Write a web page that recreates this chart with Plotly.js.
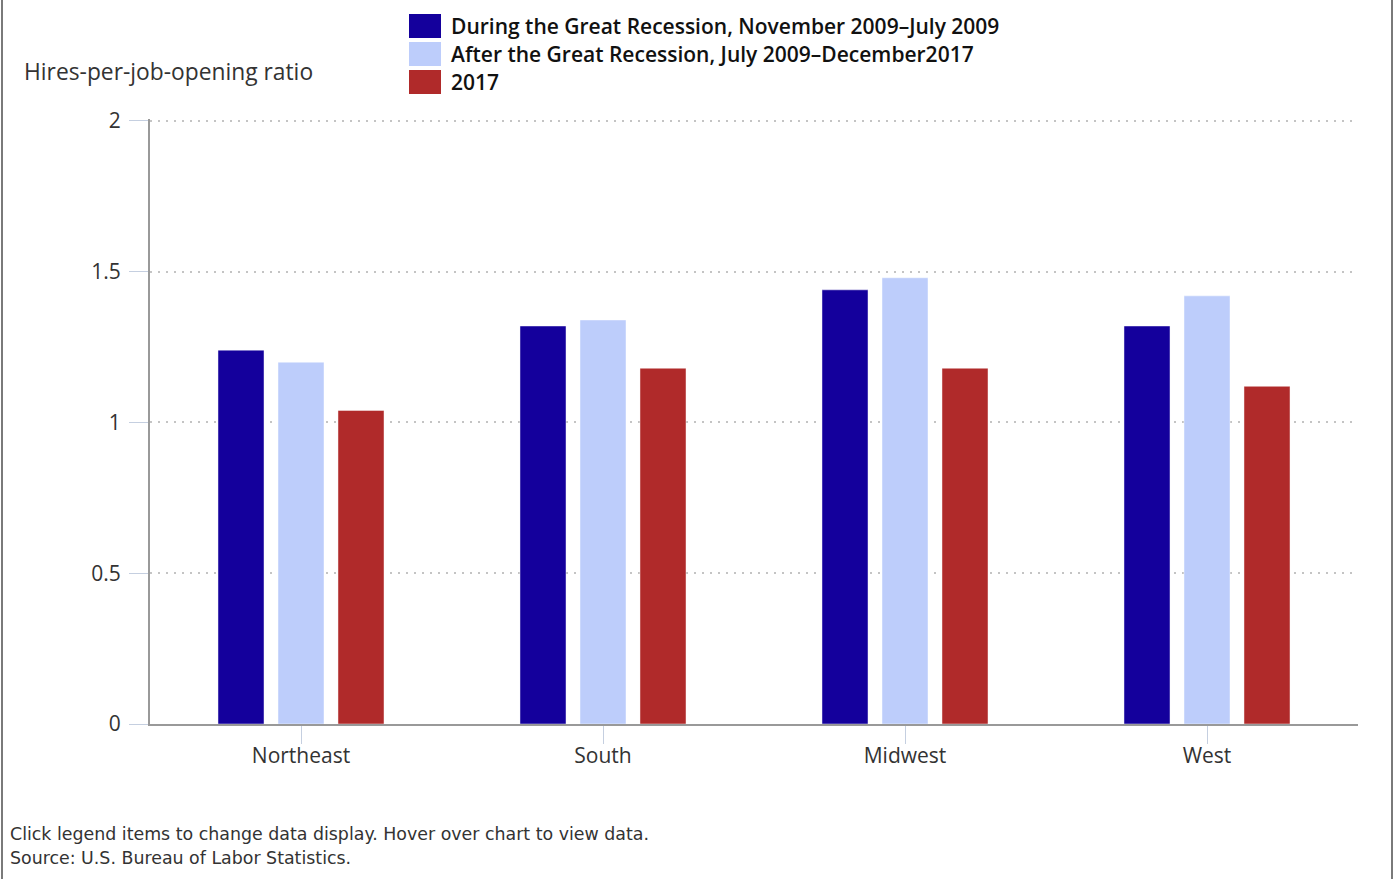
<!DOCTYPE html>
<html>
<head>
<meta charset="utf-8">
<script src="https://cdn.plot.ly/plotly-3.0.1.min.js"></script>
<style>
  html, body { margin: 0; padding: 0; background: #fff; }
  #chart { position: absolute; left: 0; top: 0; width: 1395px; height: 879px; }
  .edge { position: absolute; top: 0; width: 2px; height: 879px; background: #7a7a7a; }
</style>
</head>
<body>
<div id="chart"></div>
<div class="edge" style="left:1px"></div>
<div class="edge" style="left:1391px"></div>
<script>
// Hires per job opening, by Census region
const regions = ["Northeast", "South", "Midwest", "West"];
const seriesNames = [
  "During the Great Recession, November 2009\u2013July 2009",
  "After the Great Recession, July 2009\u2013December2017",
  "2017"
];
const duringRecession = [1.24, 1.32, 1.44, 1.32];
const afterRecession  = [1.20, 1.34, 1.48, 1.42];
const year2017        = [1.04, 1.18, 1.18, 1.12];
const seriesColors = ["#14009c", "#bdcdfb", "#b02a2a"];
const yTicks = [0, 0.5, 1, 1.5, 2];
const yTickText = ["0", "0.5", "1", "1.5", "2"];

const values = [duringRecession, afterRecession, year2017];

const traces = values.map((v, i) => ({
  type: "bar",
  name: seriesNames[i],
  x: regions,
  y: v,
  marker: { color: seriesColors[i], line: { color: "rgba(255,255,255,0.45)", width: 1 } },
  hovertemplate: "%{x}<br>" + seriesNames[i] + ": %{y}<extra></extra>",
  showlegend: false
}));

const textFont = "Open Sans, Noto Sans, sans-serif";
const noteFont = "DejaVu Sans, Verdana, sans-serif";

// page-pixel helpers for items placed outside the plot area
const L = 150, T = 119, W = 1208, H = 605;
const px = x => (x - L) / W;
const py = y => (T + H - y) / H;

// Legend drawn as swatches plus labels above the plot
const shapes = [];
const annotations = [];
seriesNames.forEach((name, i) => {
  const cy = 26 + i * 28;
  shapes.push({
    type: "rect", xref: "paper", yref: "paper",
    x0: px(409), x1: px(441), y0: py(cy + 12), y1: py(cy - 12),
    fillcolor: seriesColors[i], line: { width: 0 }
  });
  annotations.push({
    xref: "paper", yref: "paper", x: px(449), y: py(cy),
    xanchor: "left", yanchor: "middle", showarrow: false,
    text: name, font: { family: textFont, size: 21, color: "#111", weight: 600 }
  });
});

annotations.push({
  xref: "paper", yref: "paper", x: px(22), y: py(72),
  xanchor: "left", yanchor: "middle", showarrow: false,
  text: "Hires-per-job-opening ratio",
  font: { family: textFont, size: 22.8, color: "#333" }
});
annotations.push({
  xref: "paper", yref: "paper", x: px(8), y: py(834),
  xanchor: "left", yanchor: "middle", showarrow: false,
  text: "Click legend items to change data display. Hover over chart to view data.",
  font: { family: noteFont, size: 17.4, color: "#333" }
});
annotations.push({
  xref: "paper", yref: "paper", x: px(8), y: py(858),
  xanchor: "left", yanchor: "middle", showarrow: false,
  text: "Source: U.S. Bureau of Labor Statistics.",
  font: { family: noteFont, size: 17.4, color: "#333" }
});

const layout = {
  width: 1395, height: 879,
  margin: { l: L, r: 1395 - L - W, t: T, b: 879 - T - H },
  paper_bgcolor: "#fff", plot_bgcolor: "#fff",
  barmode: "group", bargap: 0.404, bargroupgap: 0.233,
  showlegend: false,
  xaxis: {
    range: [-0.5, 3.5], fixedrange: true,
    showline: true, linecolor: "#999", linewidth: 2,
    ticks: "outside", ticklen: 18, tickcolor: "#c5cfe0", tickwidth: 1,
    ticklabelstandoff: -6,
    tickfont: { family: textFont, size: 21, color: "#333" },
    showgrid: false, zeroline: false
  },
  yaxis: {
    range: [0, 2.0066], fixedrange: true,
    tickvals: yTicks, ticktext: yTickText,
    showline: true, linecolor: "#999", linewidth: 2,
    ticks: "outside", ticklen: 19, tickcolor: "#c5cfe0", tickwidth: 1,
    ticklabelstandoff: 4,
    tickfont: { family: textFont, size: 21, color: "#333" },
    showgrid: true, gridcolor: "#c4c4c4", gridwidth: 2, griddash: "2px,6px",
    zeroline: false
  },
  shapes: shapes,
  annotations: annotations
};

Plotly.newPlot("chart", traces, layout, { displayModeBar: false, responsive: false });
</script>
</body>
</html>
